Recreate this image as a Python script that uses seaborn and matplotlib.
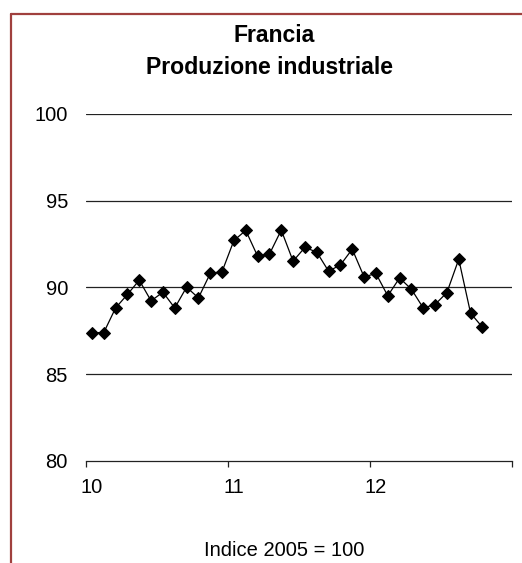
import matplotlib
matplotlib.use("Agg")
import matplotlib.pyplot as plt
import matplotlib.transforms as mtransforms
from matplotlib.lines import Line2D
import numpy as np
import pandas as pd
import seaborn as sns

# Monthly industrial production index, Jan 2010 - Oct 2012 (2005 = 100)
years = [10] * 12 + [11] * 12 + [12] * 10
months = list(range(1, 13)) + list(range(1, 13)) + list(range(1, 11))
production = [
    87.40, 87.40, 88.82, 89.60, 90.42, 89.23, 89.73, 88.82, 90.02, 89.40, 90.81, 90.92,
    92.71, 93.29, 91.81, 91.92, 93.31, 91.52, 92.31, 92.04, 90.94, 91.30, 92.21, 90.61,
    90.81, 89.52, 90.55, 89.90, 88.82, 89.02, 89.71, 91.63, 88.52, 87.71,
]
year_ticks = [10, 11, 12, 13]
year_labels = ["10", "11", "12", ""]
y_ticks = [80, 85, 90, 95, 100]

df = pd.DataFrame({"year": years, "month": months, "value": production})
# each month sits in the middle of its category slot on the year axis
df["t"] = df["year"] + (df["month"] - 0.5) / 12

sns.set_theme(style="white")
plt.rcParams["font.family"] = ["Liberation Sans", "DejaVu Sans"]
plt.rcParams["text.color"] = "black"
plt.rcParams["xtick.color"] = "black"
plt.rcParams["ytick.color"] = "black"

fig = plt.figure(figsize=(5.22, 5.63), dpi=100)
ax = fig.add_axes([86 / 522, 1 - 461 / 563, (512 - 86) / 522, (461 - 114) / 563])

sns.lineplot(data=df, x="t", y="value", ax=ax, color="black", linewidth=0.9,
             marker="D", markersize=6.2, markeredgecolor="black",
             markerfacecolor="black", zorder=3)

ax.set_xlim(10, 13)
ax.set_ylim(80, 100)
ax.set_yticks(y_ticks)
ax.set_yticklabels([str(v) for v in y_ticks])
ax.set_xticks(year_ticks)
ax.set_xticklabels(year_labels)
ax.set_xlabel("")
ax.set_ylabel("")

for v in y_ticks[1:]:
    ax.axhline(v, color="#222222", linewidth=0.9, zorder=1)

for side in ["left", "right", "top"]:
    ax.spines[side].set_visible(False)
ax.spines["bottom"].set_color("#222222")
ax.spines["bottom"].set_linewidth(0.9)

ax.tick_params(axis="x", direction="out", length=4, width=0.9, color="#222222",
               labelcolor="black", labelsize=14.5, pad=8, bottom=True)
ax.tick_params(axis="y", length=0, labelsize=14.5, labelcolor="black", pad=13)

offset = mtransforms.ScaledTranslation(6 / 100, 0, fig.dpi_scale_trans)
for lab in ax.get_xticklabels():
    lab.set_transform(lab.get_transform() + offset)

fig.text(274 / 522, 1 - 36 / 563, "Francia", ha="center", va="center",
         fontsize=16.6, fontweight="bold", color="black")
fig.text(269 / 522, 1 - 68 / 563, "Produzione industriale", ha="center",
         va="center", fontsize=16.6, fontweight="bold", color="black")
fig.text(284 / 522, 1 - 550 / 563, "Indice 2005 = 100", ha="center",
         va="center", fontsize=14.5, color="black")

# frame around the panel
frame_color = "#a0403e"
fig.add_artist(Line2D([11 / 522, 11 / 522], [0, 1 - 14 / 563],
                      transform=fig.transFigure, color=frame_color, linewidth=1.6))
fig.add_artist(Line2D([11 / 522, 1], [1 - 14 / 563, 1 - 14 / 563],
                      transform=fig.transFigure, color=frame_color, linewidth=1.6))

fig.savefig("out.png", dpi=100)
